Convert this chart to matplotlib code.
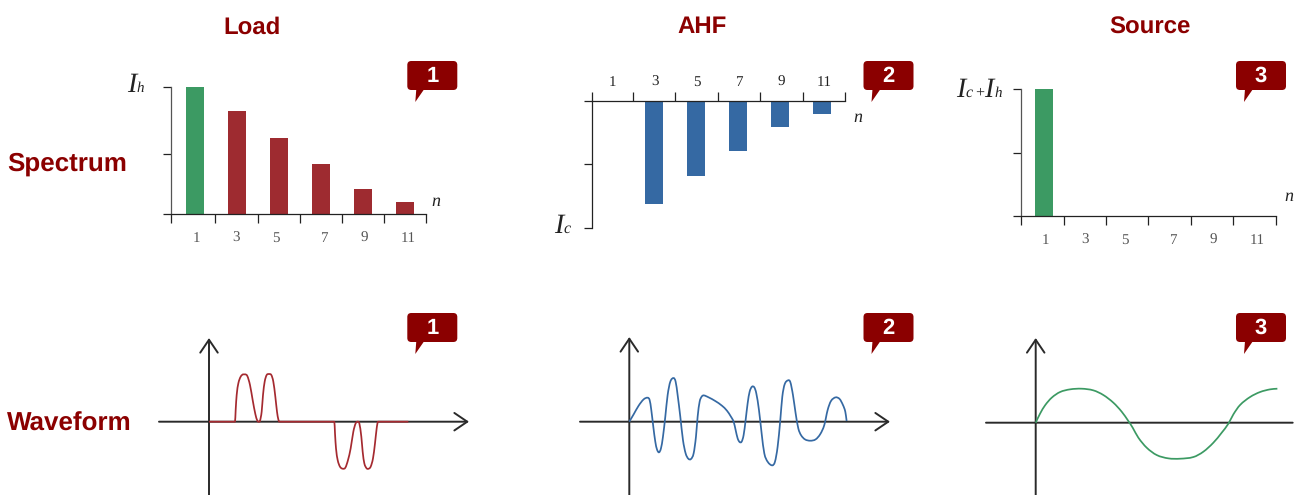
import numpy as np
import matplotlib
matplotlib.use("Agg")
import matplotlib.pyplot as plt
from matplotlib.patches import FancyBboxPatch, Polygon, PathPatch
from matplotlib.path import Path

W, H = 1301, 495
RED_TXT = "#8B0000"
RED = "#9E2B30"
GREEN = "#3C9A63"
BLUE = "#3569A3"
SERIF = "Liberation Serif"
SANS = "Liberation Sans"

harmonics = [1, 3, 5, 7, 9, 11]
tick_labels = ["1", "3", "5", "7", "9", "11"]
load_spectrum = [100, 81, 60, 40, 20, 10]
ahf_spectrum = [0, -81, -59, -39, -20, -10]
source_spectrum = [100, 0, 0, 0, 0, 0]
load_colors = [GREEN, RED, RED, RED, RED, RED]

# waveforms (horizontal position, level), in reading units
load_t = [177, 255, 257, 260, 265, 272, 280, 285, 292, 300, 308, 316, 322, 326, 330, 335, 339, 344, 350, 357,
          364, 370, 376, 381, 385, 388, 553, 555, 558, 563, 570, 578, 586, 594, 602, 610, 617, 623, 628, 634,
          638, 643, 650, 656, 662, 669, 675, 680, 684, 775]
load_i = [305, 305, 270, 225, 190, 170, 163, 163, 168, 195, 240, 282, 302, 305, 302, 275, 225, 185, 165, 162,
          165, 185, 230, 275, 298, 305, 305, 340, 385, 420, 440, 446, 443, 420, 385, 335, 310, 305, 310, 350,
          395, 430, 445, 446, 440, 415, 370, 325, 305, 305]
ahf_t = [177, 190, 205, 220, 232, 238, 243, 249, 255, 260, 266, 272, 278, 285, 292, 300, 310, 316, 322, 330,
         338, 346, 354, 362, 370, 377, 382, 388, 394, 400, 415, 435, 455, 470, 482, 490, 496, 502, 508, 514,
         520, 526, 532, 538, 545, 552, 558, 566, 574, 582, 592, 606, 614, 622, 630, 636, 643, 653, 660, 668,
         676, 684, 692, 704, 720, 736, 750, 762, 772, 782, 796, 808, 818, 825, 829]
ahf_i = [305, 283, 257, 238, 233, 240, 270, 320, 365, 388, 397, 385, 350, 290, 225, 185, 174, 185, 225, 290,
         360, 400, 416, 417, 400, 350, 290, 245, 230, 226, 232, 243, 257, 272, 290, 305, 330, 355, 366, 365,
         345, 300, 250, 215, 200, 202, 220, 270, 340, 400, 425, 436, 425, 380, 300, 230, 193, 181, 186, 225,
         280, 325, 345, 358, 362, 358, 342, 315, 270, 243, 232, 237, 255, 275, 303]
source_t = [167, 180, 195, 215, 240, 270, 305, 340, 370, 400, 425, 445, 458, 475, 500, 530, 565, 600, 640, 670,
            700, 725, 745, 760, 780, 810, 840, 870, 892]
source_i = [305, 278, 253, 230, 213, 205, 203, 208, 222, 245, 272, 300, 320, 350, 380, 402, 412, 413, 408, 392,
            365, 335, 308, 280, 252, 228, 213, 205, 203]

plt.rcParams["font.family"] = [SANS, "DejaVu Sans"]
plt.rcParams["text.hinting"] = "none"
plt.rcParams["text.hinting_factor"] = 1
fig = plt.figure(figsize=(W / 100, H / 100), dpi=100)


def axes_px(left, top, right, bottom, **kw):
    return fig.add_axes([left / W, 1 - bottom / H, (right - left) / W, (bottom - top) / H], **kw)


def spectrum(left, right, top, bottom, bar_n, bar_px, values, colors, tick_px, label_px, mid, label_color, flip=False):
    ax = axes_px(left, top, right, bottom)
    ax.patch.set_alpha(0)
    to_n = lambda p: bar_n + (np.asarray(p, float) - bar_px) / 21
    ax.set_xlim(to_n(left), to_n(right))
    ax.bar(harmonics, values, width=18 / 21, color=colors, zorder=1)
    for s in ax.spines.values():
        s.set_visible(False)
    ax.spines["left"].set_visible(True)
    ax.spines["top" if flip else "bottom"].set_visible(True)
    for s in ax.spines.values():
        s.set_color("#222222")
        s.set_linewidth(0.9)
    ax.spines["left"].set_color("#222222" if flip else "#555555")
    if flip:
        ax.set_ylim(-100, 0)
        ax.set_yticks([0, -mid, -100])
        ax.xaxis.tick_top()
    else:
        ax.set_ylim(0, 100)
        ax.set_yticks([0, mid, 100])
    ax.set_yticklabels([])
    ax.tick_params(axis="y", length=6, width=0.9, color="#222222")
    ax.set_xticks(to_n(tick_px))
    ax.set_xticklabels([])
    ax.tick_params(axis="x", which="major", length=6.2, width=0.9, color="#222222")
    ax.set_xticks(to_n(label_px), tick_labels, minor=True, fontfamily=SERIF, fontsize=10.5, color=label_color)
    ax.tick_params(axis="x", which="minor", length=0, pad=12.5 if not flip else 9)
    return ax


spectrum(171.3, 426, 87.3, 214.3, 1, 195, load_spectrum, load_colors,
         [171.3, 214.7, 257.7, 299.7, 342, 384.3, 426], [196, 236, 276, 324, 364, 408], 47.2, "#555555")
spectrum(591.7, 845.3, 101.3, 228.3, 3, 654, ahf_spectrum, BLUE,
         [591.7, 633.3, 675.3, 718.3, 760.3, 803.3, 845.3], [612, 654.6, 697, 739, 781.6, 824], 49.6, "#222222", flip=True)
spectrum(1021.3, 1276.3, 89.3, 216.3, 1, 1044, source_spectrum, GREEN,
         [1021.3, 1064.3, 1106.3, 1148.3, 1191.3, 1233.3, 1276.3], [1045, 1085, 1125, 1173, 1213, 1257], 49.6, "#555555")


def smooth_path(x, y):
    """Bezier path through the read points, flat where the curve rests on the axis."""
    x, y = np.asarray(x, float), np.asarray(y, float)
    h = np.diff(x)
    d = np.diff(y) / h
    m = np.zeros_like(x)
    for k in range(1, len(x) - 1):
        if d[k - 1] != 0 and d[k] != 0:
            m[k] = (y[k + 1] - y[k - 1]) / (x[k + 1] - x[k - 1])
    m[0], m[-1] = d[0], d[-1]
    verts, codes = [(x[0], y[0])], [Path.MOVETO]
    for k in range(len(h)):
        verts += [(x[k] + h[k] / 3, y[k] + m[k] * h[k] / 3),
                  (x[k + 1] - h[k] / 3, y[k + 1] - m[k + 1] * h[k] / 3),
                  (x[k + 1], y[k + 1])]
        codes += [Path.CURVE4] * 3
    return Path(verts, codes)


def waveform(left, right, top, ox, oy, t, i, color, x_arrow=True):
    ax = axes_px(left, top, right, H)
    ax.patch.set_alpha(0)
    ax.axis("off")
    ax.set_xlim((left - ox) * 3, (right - ox) * 3)
    ax.set_ylim((oy - H) * 3, (oy - top) * 3)
    x0, x1 = ax.get_xlim()
    y0, y1 = ax.get_ylim()
    head = "->,head_length=0.62,head_width=0.42"
    ax.annotate("", xy=(x1, 0), xytext=(x0, 0), annotation_clip=False,
                arrowprops=dict(arrowstyle=head if x_arrow else "-", color="#2a2a2a", lw=1.4, shrinkA=0, shrinkB=0,
                                mutation_scale=15))
    ax.annotate("", xy=(0, y1), xytext=(0, y0), annotation_clip=False,
                arrowprops=dict(arrowstyle=head, color="#2a2a2a", lw=1.4, shrinkA=0, shrinkB=0, mutation_scale=15))
    ax.add_patch(PathPatch(smooth_path(np.array(t) - t[0], 305 - np.array(i)), fc="none", ec=color, lw=1.25,
                           joinstyle="round", zorder=3))


waveform(159, 469, 338, 209, 421.7, load_t, load_i, "#A52A30")
waveform(580, 890, 337, 629.3, 421.7, ahf_t, ahf_i, BLUE)
waveform(986, 1292.7, 338, 1035.7, 422.7, source_t, source_i, GREEN, x_arrow=False)

# overlay in pixel coordinates for titles, callouts and symbols
ov = fig.add_axes([0, 0, 1, 1])
ov.set_xlim(0, W)
ov.set_ylim(H, 0)
ov.axis("off")
ov.patch.set_alpha(0)

for x, s in [(252, "Load"), (702, "AHF"), (1150, "Source")]:
    ov.text(x, 33.3, s, color=RED_TXT, fontsize=17, fontweight="bold", ha="center", va="baseline")
ov.text(7, 170.7, "Spectrum", color=RED_TXT, fontsize=19, fontweight="bold", ha="left", va="baseline")
ov.text(7, 430.7, "Waveform", color=RED_TXT, fontsize=19, fontweight="bold", ha="left", va="baseline")

for x, y, s in [(407.3, 61, "1"), (863.5, 61, "2"), (1236, 61, "3"),
                (407.3, 313, "1"), (863.5, 313, "2"), (1236, 313, "3")]:
    ov.add_patch(FancyBboxPatch((x + 3, y + 3), 44, 23, boxstyle="round,pad=3,rounding_size=4",
                                fc=RED_TXT, ec="none"))
    ov.add_patch(Polygon([(x + 9, y + 28), (x + 8, y + 41), (x + 17, y + 28)], fc=RED_TXT, ec="none"))
    ov.text(x + 25, y + 15.5, s, color="white", fontsize=15.5, fontweight="bold", ha="center", va="center")


def sym(x, y, s, size):
    ov.text(x, y, s, family=SERIF, style="italic", fontsize=size, color="#222222", ha="left", va="baseline")


sym(127, 92, "I", 20)
sym(136, 92, "h", 11)
sym(554.5, 233, "I", 20)
sym(563, 233, "c", 11.5)
sym(956.5, 97, "I", 20)
sym(965.5, 97, "c", 11.5)
sym(974.5, 97, "+", 11.5)
sym(984, 97, "I", 20)
sym(994, 97, "h", 11)
sym(431, 206, "n", 13)
sym(853.5, 122, "n", 13)
sym(1284.5, 201, "n", 13)

fig.savefig("out.png", dpi=100)
